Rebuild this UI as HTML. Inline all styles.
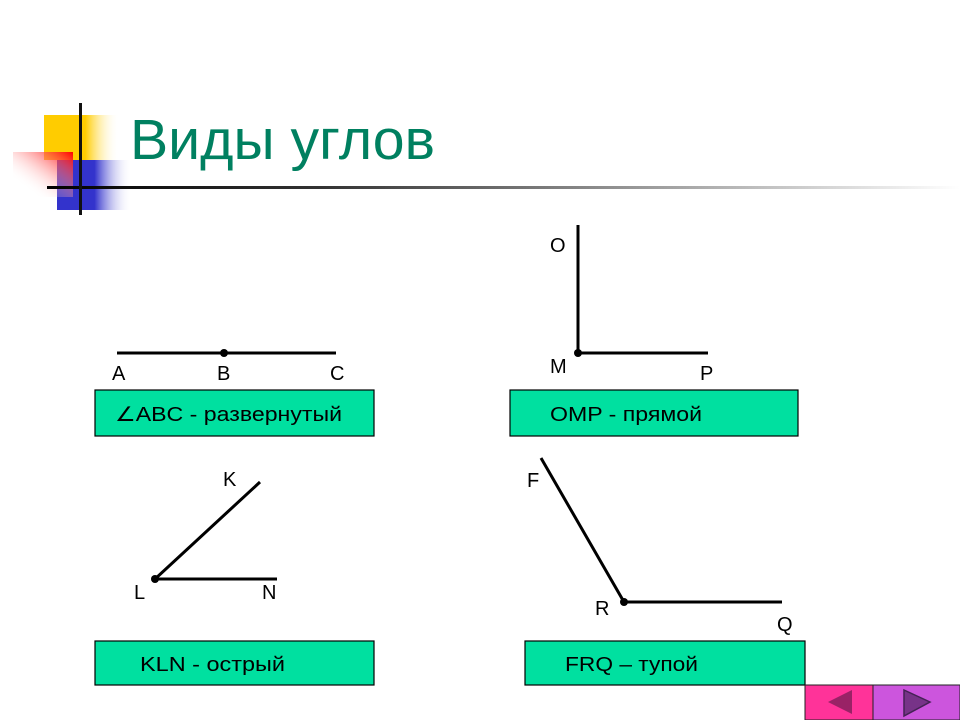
<!DOCTYPE html>
<html><head><meta charset="utf-8"><style>
html,body{margin:0;padding:0;background:#fff;width:960px;height:720px;overflow:hidden}
svg text{font-family:"Liberation Sans",sans-serif}
</style></head><body>
<svg width="960" height="720" viewBox="0 0 960 720" xmlns="http://www.w3.org/2000/svg">
<defs>
<linearGradient id="gy" x1="0" x2="1"><stop offset="0.55" stop-color="#ffcc00"/><stop offset="1" stop-color="#fff" stop-opacity="0"/></linearGradient>
<linearGradient id="gb" x1="0" x2="1"><stop offset="0.5" stop-color="#3333cc"/><stop offset="1" stop-color="#fff" stop-opacity="0"/></linearGradient>
<linearGradient id="gr" x1="1" x2="0" y1="0" y2="1"><stop offset="0" stop-color="#ff0000"/><stop offset="0.8" stop-color="#fff" stop-opacity="0"/></linearGradient>
<linearGradient id="gl" x1="0" x2="1"><stop offset="0" stop-color="#000"/><stop offset="0.3" stop-color="#333"/><stop offset="1" stop-color="#fff"/></linearGradient>
</defs>
<rect x="44" y="115" width="75" height="45" fill="url(#gy)"/>
<rect x="57" y="160" width="75" height="50" fill="url(#gb)"/>
<rect x="13" y="152" width="60" height="45" fill="url(#gr)"/>
<rect x="47" y="186" width="913" height="3" fill="url(#gl)"/>
<rect x="79" y="103" width="3" height="112" fill="#111"/>
<text x="130" y="159" font-size="57" fill="#008060" textLength="305" lengthAdjust="spacingAndGlyphs">Виды углов</text>

<g stroke="#000" stroke-width="3" fill="none">
<line x1="117" y1="353" x2="336" y2="353"/>
<polyline points="578,225 578,353 708,353"/>
<polyline points="260,482 155,579 277,579"/>
<polyline points="541,458 624,602 782,602"/>
</g>
<g fill="#000"><circle cx="224" cy="353" r="4"/><circle cx="578" cy="353" r="4"/><circle cx="155" cy="579" r="4"/><circle cx="624" cy="602" r="4"/></g>
<g font-size="20" fill="#000">
<text x="112" y="380">A</text><text x="217" y="380">B</text><text x="330" y="380">C</text>
<text x="550" y="252">O</text><text x="550" y="373">M</text><text x="700" y="380">P</text>
<text x="223" y="486">K</text><text x="134" y="599">L</text><text x="262" y="599">N</text>
<text x="527" y="487">F</text><text x="595" y="615">R</text><text x="777" y="631">Q</text>
</g>
<g fill="#00e0a0" stroke="#000" stroke-width="1.2">
<rect x="95" y="390" width="279" height="46"/>
<rect x="510" y="390" width="288" height="46"/>
<rect x="95" y="641" width="279" height="44"/>
<rect x="525" y="641" width="280" height="44"/>
</g>
<g font-size="20" fill="#000">
<text x="115" y="421" textLength="227" lengthAdjust="spacingAndGlyphs">∠ABC - развернутый</text>
<text x="550" y="421" textLength="152" lengthAdjust="spacingAndGlyphs">OMP - прямой</text>
<text x="140" y="671" textLength="145" lengthAdjust="spacingAndGlyphs">KLN - острый</text>
<text x="565" y="671" textLength="133" lengthAdjust="spacingAndGlyphs">FRQ – тупой</text>
</g>
<rect x="805" y="685" width="68" height="35" fill="#ff3399" stroke="#222" stroke-width="1"/>
<rect x="873" y="685" width="87" height="35" fill="#cc55dd" stroke="#222" stroke-width="1"/>
<polygon points="828,702 852,690 852,714" fill="#992266"/>
<polygon points="904,690 930,702 904,716" fill="#773388" stroke="#442255" stroke-width="1.5"/>
</svg>
</body></html>
